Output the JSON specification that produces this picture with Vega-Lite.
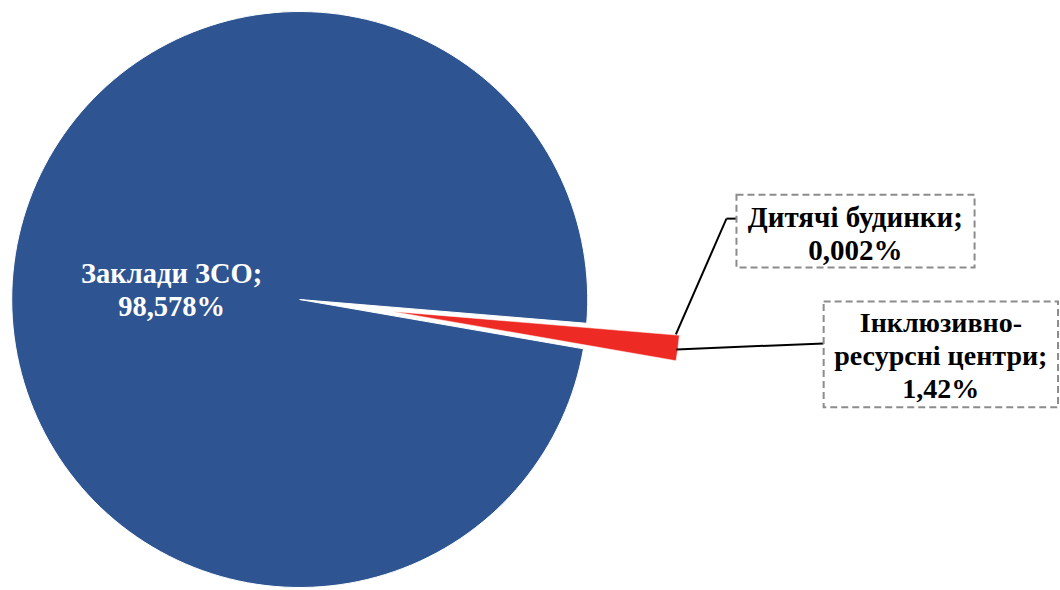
{
  "$schema": "https://vega.github.io/schema/vega-lite/v6.json",
  "width": 1060,
  "height": 590,
  "autosize": {"type": "fit", "contains": "padding"},
  "padding": 0,
  "background": "white",
  "config": {"view": {"stroke": null}, "axis": {"disable": true}},
  "data": {
    "values": [
      {"category": "Дитячі будинки", "value": 0.002, "order": 1, "label": "Дитячі будинки;\n0,002%"},
      {"category": "Інклюзивно-ресурсні центри", "value": 1.42, "order": 2, "label": "Інклюзивно-\nресурсні центри;\n1,42%"},
      {"category": "Заклади ЗСО", "value": 98.578, "order": 3, "label": "Заклади ЗСО;\n98,578%"}
    ]
  },
  "transform": [
    {"stack": "value", "groupby": [], "sort": [{"field": "order", "order": "ascending"}], "as": ["v0", "v1"]}
  ],
  "layer": [
    {
      "transform": [{"filter": "datum.category === 'Заклади ЗСО'"}],
      "mark": {"type": "arc", "radius": 288, "stroke": "white", "strokeWidth": 1},
      "encoding": {
        "x": {"datum": 0, "type": "quantitative", "axis": null, "scale": {"domain": [-1.0486, 2.6319], "nice": false, "zero": false}},
        "y": {"datum": 0, "type": "quantitative", "axis": null, "scale": {"domain": [-1.0069, 1.0417], "nice": false, "zero": false}},
        "theta": {"field": "v0", "type": "quantitative", "scale": {"domain": [0, 100], "range": [1.6535, 7.9367]}},
        "theta2": {"field": "v1"},
        "color": {"value": "#2E5591"}
      }
    },
    {
      "transform": [{"filter": "datum.category !== 'Заклади ЗСО'"}],
      "mark": {"type": "arc", "radius": 288, "stroke": "white", "strokeWidth": 0.5},
      "encoding": {
        "x": {"datum": 0.3238, "type": "quantitative"},
        "y": {"datum": -0.0415, "type": "quantitative"},
        "theta": {"field": "v0", "type": "quantitative"},
        "theta2": {"field": "v1"},
        "color": {"value": "#EE2A24"}
      }
    },
    {
      "transform": [{"filter": "datum.category === 'Дитячі будинки'"}],
      "mark": {"type": "rule", "color": "black", "strokeWidth": 2},
      "encoding": {
        "x": {"datum": 1.316, "type": "quantitative"},
        "y": {"datum": -0.1215, "type": "quantitative"},
        "x2": {"datum": 1.493},
        "y2": {"datum": 0.2813}
      }
    },
    {
      "transform": [{"filter": "datum.category === 'Дитячі будинки'"}],
      "mark": {"type": "rule", "color": "black", "strokeWidth": 2},
      "encoding": {
        "x": {"datum": 1.493, "type": "quantitative"},
        "y": {"datum": 0.2813, "type": "quantitative"},
        "x2": {"datum": 1.528},
        "y2": {"datum": 0.2813}
      }
    },
    {
      "transform": [{"filter": "datum.category === 'Інклюзивно-ресурсні центри'"}],
      "mark": {"type": "rule", "color": "black", "strokeWidth": 2},
      "encoding": {
        "x": {"datum": 1.318, "type": "quantitative"},
        "y": {"datum": -0.1736, "type": "quantitative"},
        "x2": {"datum": 1.833},
        "y2": {"datum": -0.1528}
      }
    },
    {
      "transform": [{"filter": "datum.category === 'Дитячі будинки'"}],
      "mark": {"type": "rect", "fill": "white", "stroke": "#8C8C8C", "strokeWidth": 2, "strokeDash": [7, 4]},
      "encoding": {
        "x": {"datum": 1.528, "type": "quantitative"},
        "x2": {"datum": 2.361},
        "y": {"datum": 0.3646, "type": "quantitative"},
        "y2": {"datum": 0.1111}
      }
    },
    {
      "transform": [{"filter": "datum.category === 'Інклюзивно-ресурсні центри'"}],
      "mark": {"type": "rect", "fill": "white", "stroke": "#8C8C8C", "strokeWidth": 2, "strokeDash": [7, 4]},
      "encoding": {
        "x": {"datum": 1.833, "type": "quantitative"},
        "x2": {"datum": 2.653},
        "y": {"datum": -0.0069, "type": "quantitative"},
        "y2": {"datum": -0.375}
      }
    },
    {
      "transform": [{"filter": "datum.category === 'Заклади ЗСО'"}],
      "mark": {"type": "text", "font": "Liberation Serif", "fontWeight": "bold", "fontSize": 28.5, "lineHeight": 33, "lineBreak": "\n", "align": "center", "baseline": "alphabetic", "color": "white"},
      "encoding": {
        "x": {"datum": -0.448, "type": "quantitative"},
        "y": {"datum": 0.059, "type": "quantitative"},
        "text": {"field": "label"}
      }
    },
    {
      "transform": [{"filter": "datum.category === 'Дитячі будинки'"}],
      "mark": {"type": "text", "font": "Liberation Serif", "fontWeight": "bold", "fontSize": 29, "lineHeight": 33, "lineBreak": "\n", "align": "center", "baseline": "alphabetic", "color": "black"},
      "encoding": {
        "x": {"datum": 1.944, "type": "quantitative"},
        "y": {"datum": 0.2535, "type": "quantitative"},
        "text": {"field": "label"}
      }
    },
    {
      "transform": [{"filter": "datum.category === 'Інклюзивно-ресурсні центри'"}],
      "mark": {"type": "text", "font": "Liberation Serif", "fontWeight": "bold", "fontSize": 28, "lineHeight": 33, "lineBreak": "\n", "align": "center", "baseline": "alphabetic", "color": "black"},
      "encoding": {
        "x": {"datum": 2.243, "type": "quantitative"},
        "y": {"datum": -0.1146, "type": "quantitative"},
        "text": {"field": "label"}
      }
    }
  ]
}
